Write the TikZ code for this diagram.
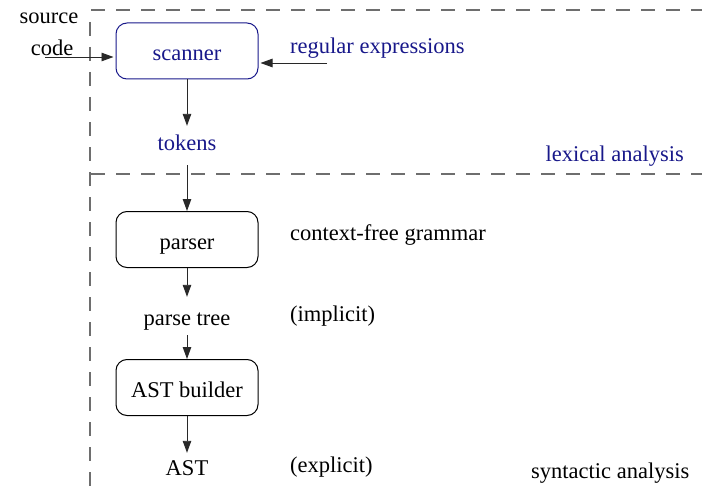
\documentclass[tikz,border=0pt]{standalone}
\usepackage{fontspec}
\setmainfont{Liberation Serif}
\usetikzlibrary{arrows.meta}
\definecolor{lexblue}{RGB}{24,24,138}
\definecolor{rulegray}{RGB}{110,110,110}
\definecolor{wire}{RGB}{40,40,40}
\begin{document}
\begin{tikzpicture}[x=1pt,y=-1pt,
  every node/.style={font=\fontsize{22.5}{27}\selectfont},
  stage/.style={draw, rounded corners=11pt, minimum width=142pt,
    minimum height=56pt, line width=1pt, inner sep=0pt,
    text height=19pt, text depth=0pt},
  txt/.style={inner sep=0pt, anchor=base, text height=15.4pt, text depth=4.9pt},
  flow/.style={draw=wire, line width=0.9pt, -{Triangle[length=12pt,width=8.5pt]}},
  region/.style={draw=rulegray, line width=1.2pt, dash pattern=on 14pt off 11pt}]
\useasboundingbox (0,0) rectangle (702,487);

% phase boundaries
\draw[region] (91,10) -- (702,10);
\draw[region] (90,22) -- (90,487);
\draw[region] (91,174) -- (702,174);

% processing stages
\node[stage, draw=lexblue, text=lexblue] (scanner) at (187,51) {scanner};
\node[stage] (parser) at (187,239.5) {parser};
\node[stage] (astb) at (187,387.5) {AST builder};

% data and annotations
\node[txt] (src1) at (49,24) {source};
\node[txt] (src2) at (52,55.5) {code};
\node[txt, anchor=base west, text=lexblue] (regex) at (290,54) {regular expressions};
\node[txt, text=lexblue] (tokens) at (187,150) {tokens};
\node[txt, anchor=base east, text=lexblue] (lex) at (684,161) {lexical analysis};
\node[txt, anchor=base west] (cfg) at (290,240) {context-free grammar};
\node[txt] (ptree) at (187,325) {parse tree};
\node[txt, anchor=base west] (impl) at (290,321) {(implicit)};
\node[txt] (ast) at (187,475) {AST};
\node[txt, anchor=base west] (expl) at (290,472.5) {(explicit)};
\node[txt, anchor=base west] (syn) at (531,478) {syntactic analysis};

% inputs to the scanner
\coordinate (srcin) at (45,57);
\coordinate (rein) at (327,63);
\draw[flow, shorten >=2pt] (srcin) -- (srcin -| scanner.west);
\draw[flow, shorten >=2pt] (rein) -- (rein -| scanner.east);

% main pipeline
\draw[flow, shorten >=8.6pt] (scanner) -- (tokens);
\draw[flow, shorten <=10pt] (tokens) -- (parser);
\draw[flow, shorten >=12.6pt] (parser) -- (ptree);
\draw[flow, shorten <=5pt] (ptree) -- (astb);
\draw[flow, shorten >=6.6pt] (astb) -- (ast);
\end{tikzpicture}
\end{document}
